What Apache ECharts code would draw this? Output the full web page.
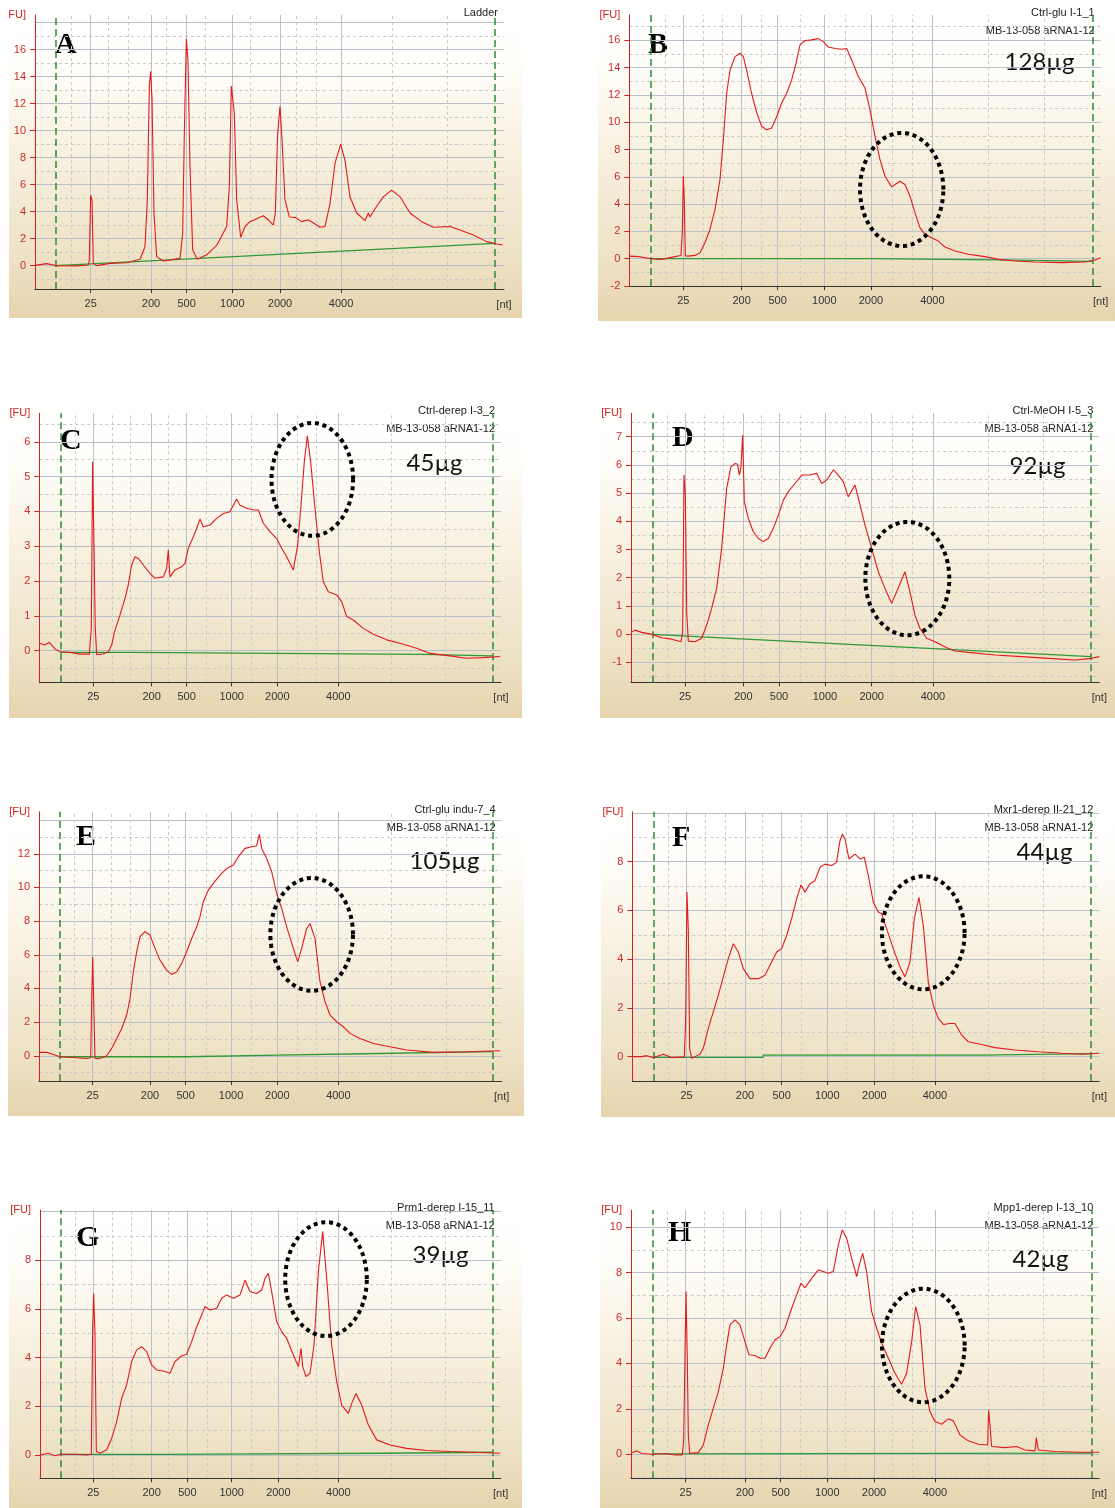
<!DOCTYPE html>
<html>
<head>
<meta charset="utf-8">
<script src="https://cdn.jsdelivr.net/npm/echarts@6/dist/echarts.min.js"></script>
<style>
  html, body { margin: 0; padding: 0; background: #ffffff; width: 1115px; height: 1508px; overflow: hidden; position: relative; }
  .panel {
    position: absolute;
    background: linear-gradient(to bottom, #ffffff 0%, #fffefb 18%, #f7f0de 50%, #eee2c6 80%, #e6d4ae 100%);
  }
</style>
</head>
<body>
<div id="pA" class="panel"></div>
<div id="pB" class="panel"></div>
<div id="pC" class="panel"></div>
<div id="pD" class="panel"></div>
<div id="pE" class="panel"></div>
<div id="pF" class="panel"></div>
<div id="pG" class="panel"></div>
<div id="pH" class="panel"></div>
<script>
// Electropherograms (RNA Nano): x = relative migration position (0-100 % of run window),
// y = fluorescence [FU]. Ladder sizes mark the x ticks.
const NT_LABELS = ['25', '200', '500', '1000', '2000', '4000'];

// x positions of the ladder sizes for each run
const NT_POS_A = [11.87, 24.73, 32.34, 42.08, 52.24, 65.25];
const NT_POS_B = [11.46, 23.83, 31.47, 41.37, 51.27, 64.29];
const NT_POS_C = [11.70, 24.33, 31.91, 41.66, 51.55, 64.77];
const NT_POS_D = [11.53, 23.99, 31.60, 41.42, 51.39, 64.48];
const NT_POS_E = [11.60, 23.99, 31.70, 41.50, 51.51, 64.70];
const NT_POS_F = [11.63, 24.13, 31.98, 41.76, 51.82, 64.81];
const NT_POS_G = [11.58, 24.24, 31.98, 41.61, 51.74, 64.76];
const NT_POS_H = [11.67, 24.34, 31.96, 41.92, 51.89, 64.91];

// intermediate (unlabelled) time grid positions
const MINOR_TIME_POS = [7.7, 15.7, 19.8, 27.9, 36.2, 45.8, 55.8, 60.0, 76.2, 88.0];

// lower / upper marker window (green dashed lines)
const MARKER_POS_A = [4.48, 98.08];
const MARKER_POS_B = [4.53, 98.23];
const MARKER_POS_C = [4.55, 98.12];
const MARKER_POS_D = [4.56, 98.22];
const MARKER_POS_E = [4.47, 98.06];
const MARKER_POS_F = [4.50, 98.14];
const MARKER_POS_G = [4.41, 98.19];
const MARKER_POS_H = [4.56, 98.36];

// labelled FU values per run
const FU_TICKS_A = [0, 2, 4, 6, 8, 10, 12, 14, 16];
const FU_TICKS_B = [-2, 0, 2, 4, 6, 8, 10, 12, 14, 16];
const FU_TICKS_C = [0, 1, 2, 3, 4, 5, 6];
const FU_TICKS_D = [-1, 0, 1, 2, 3, 4, 5, 6, 7];
const FU_TICKS_E = [0, 2, 4, 6, 8, 10, 12];
const FU_TICKS_F = [0, 2, 4, 6, 8];
const FU_TICKS_G = [0, 2, 4, 6, 8];
const FU_TICKS_H = [0, 2, 4, 6, 8, 10];

// fluorescence traces [position, FU]
const TRACE_A = [[0,0.02],[2.49,0.15],[4.48,0],[8.88,-0.02],[11.37,0.05],[11.58,0.42],[11.87,5.23],[12.15,4.9],[12.44,0.17],[13.15,0.0],[15.99,0.17],[19.55,0.22],[22.39,0.47],[23.45,1.4],[23.95,4.9],[24.38,13.3],[24.66,14.4],[24.95,12.3],[25.37,3.9],[25.94,0.67],[27.36,0.35],[30.92,0.54],[31.49,2.4],[31.84,9.8],[32.27,16.8],[32.62,15.2],[33.05,7.3],[33.62,1.16],[34.61,0.47],[36.6,0.8],[38.73,1.5],[40.87,2.9],[41.44,5.9],[41.86,13.3],[42.15,13.4],[42.5,11.3],[43.0,4.9],[43.85,2.1],[44.78,2.9],[45.84,3.26],[48.68,3.7],[49.75,3.4],[50.82,3.0],[51.24,3.9],[51.74,9.8],[52.24,11.8],[52.67,9.3],[53.3,4.9],[54.23,3.6],[55.44,3.58],[56.86,3.26],[58.28,3.4],[60.77,2.84],[61.83,2.9],[62.9,4.6],[63.97,7.6],[65.17,9.0],[66.1,7.8],[67.16,5.1],[68.59,3.9],[70.36,3.33],[71.07,3.9],[71.43,3.6],[72.85,4.4],[74.27,5.1],[76.05,5.6],[77.83,5.1],[79.96,3.9],[82.44,3.26],[84.93,2.84],[88.49,2.9],[90.62,2.64],[93.46,2.27],[96.3,1.78],[98.44,1.6],[99.72,1.53]];
const TRACE_B = [[0,0.19],[1.91,0.15],[4.53,0],[6.86,-0.05],[9.69,0.15],[10.96,0.24],[11.24,1.9],[11.46,6.04],[11.67,4.3],[11.88,0.2],[12.52,0.19],[13.93,0.24],[15.0,0.44],[16.05,1.17],[17.11,2.14],[18.17,3.6],[19.24,5.8],[19.94,8.7],[20.65,12.1],[21.36,13.8],[22.42,14.8],[23.48,15.05],[24.19,14.8],[24.89,13.8],[25.95,12.1],[27.02,10.7],[28.08,9.7],[29.14,9.45],[30.2,9.57],[31.26,10.4],[32.32,11.4],[33.38,12.1],[34.44,13.1],[35.36,14.3],[36.21,15.66],[37.27,15.98],[38.68,16.03],[40.1,16.12],[41.16,15.9],[42.22,15.5],[43.63,15.4],[45.05,15.34],[46.11,15.4],[47.17,14.56],[48.59,13.35],[50.0,12.5],[51.06,10.9],[52.12,8.96],[53.18,7.26],[54.24,6.04],[55.66,5.26],[56.36,5.43],[57.43,5.67],[58.49,5.43],[59.55,4.58],[60.61,3.36],[61.67,2.26],[62.73,1.78],[64.14,1.53],[65.56,1.29],[66.97,0.85],[69.1,0.56],[71.92,0.32],[75.46,0.15],[78.29,-0.05],[81.82,-0.17],[86.07,-0.24],[91.73,-0.29],[96.68,-0.24],[98.8,-0.1],[100,0.07]];
const TRACE_C = [[0,0.21],[1.23,0.16],[2.17,0.24],[3.39,0.05],[4.55,-0.03],[6.64,-0.05],[8.81,-0.1],[10.83,-0.1],[11.26,0.64],[11.55,5.43],[11.84,3.03],[12.13,0.64],[12.42,-0.12],[13.86,-0.09],[14.95,-0.03],[15.67,0.16],[16.39,0.59],[17.47,1.02],[18.56,1.5],[19.28,1.89],[20.0,2.46],[20.72,2.7],[21.44,2.65],[22.53,2.46],[23.97,2.22],[25.05,2.08],[26.86,2.12],[27.58,2.36],[27.94,2.89],[28.3,2.12],[29.39,2.32],[30.83,2.41],[31.55,2.51],[32.27,2.94],[33.36,3.27],[34.08,3.51],[34.8,3.78],[35.52,3.56],[36.97,3.61],[38.41,3.8],[39.86,3.94],[41.3,3.99],[42.02,4.18],[42.74,4.35],[43.47,4.18],[44.91,4.09],[46.35,4.04],[47.44,4.04],[48.52,3.66],[49.96,3.42],[51.41,3.22],[52.49,2.94],[53.57,2.7],[55.02,2.32],[55.96,3.03],[56.68,4.18],[57.4,5.43],[58.05,6.17],[58.77,5.43],[59.71,4.09],[60.65,2.84],[61.52,1.98],[62.6,1.69],[64.4,1.6],[65.49,1.41],[66.57,0.98],[68.01,0.88],[70.18,0.64],[72.35,0.47],[75.23,0.31],[78.12,0.21],[81.73,0.07],[84.62,-0.08],[88.95,-0.15],[92.56,-0.22],[96.17,-0.2],[99.78,-0.17]];
const TRACE_D = [[0,0.06],[0.85,0.14],[2.28,0.06],[4.56,-0.01],[6.55,-0.13],[8.68,-0.18],[10.68,-0.27],[11.03,0.08],[11.32,5.64],[11.6,4.93],[11.89,0.8],[12.24,-0.25],[13.67,-0.27],[15.09,-0.15],[16.16,0.32],[17.22,0.91],[18.29,1.62],[19.36,3.04],[20.43,5.17],[21.35,5.94],[22.21,6.05],[22.78,6.02],[23.13,5.64],[23.49,5.94],[23.84,7.06],[24.2,4.69],[25.05,4.1],[26.12,3.63],[27.19,3.39],[28.26,3.28],[29.32,3.39],[30.39,3.75],[31.46,4.22],[32.53,4.75],[33.6,5.05],[35.02,5.34],[36.44,5.64],[38.22,5.64],[39.64,5.7],[40.71,5.34],[41.78,5.46],[43.2,5.82],[44.27,5.64],[45.34,5.4],[46.41,4.87],[47.83,5.29],[48.9,4.58],[49.96,3.87],[51.39,3.04],[52.81,2.21],[54.23,1.62],[55.66,1.09],[56.73,1.5],[58.51,2.21],[59.57,1.5],[60.64,0.67],[61.71,0.2],[63.13,-0.15],[64.91,-0.27],[67.76,-0.51],[69.18,-0.6],[72.03,-0.65],[77.72,-0.74],[83.42,-0.8],[89.11,-0.86],[94.8,-0.92],[98.36,-0.86],[100,-0.8]];
const TRACE_E = [[0,0.2],[1.66,0.2],[3.1,0.08],[4.47,-0.06],[7.42,-0.1],[10.3,-0.16],[11.17,-0.12],[11.38,3.2],[11.6,5.88],[11.82,3.2],[12.1,-0.16],[13.18,-0.16],[14.63,0],[15.71,0.44],[16.79,1.03],[17.87,1.62],[18.95,2.42],[19.67,3.4],[20.39,4.99],[21.11,6.18],[21.83,7.07],[22.91,7.37],[23.99,7.17],[25.07,6.38],[26.15,5.68],[27.59,5.09],[28.67,4.83],[29.76,4.99],[30.84,5.49],[31.92,6.18],[33.0,6.97],[34.08,7.66],[34.8,8.26],[35.52,9.15],[36.6,9.84],[37.68,10.24],[39.12,10.73],[40.56,11.13],[42.0,11.33],[43.08,11.82],[44.52,12.32],[45.97,12.42],[47.05,12.48],[47.62,13.15],[48.13,12.32],[49.21,11.72],[50.29,10.93],[51.37,9.64],[52.45,8.75],[53.53,7.66],[54.97,6.38],[55.91,5.58],[56.77,6.38],[57.85,7.56],[58.57,7.86],[59.65,6.97],[60.73,4.4],[61.82,3.21],[62.9,2.42],[64.34,2.02],[65.78,1.72],[67.22,1.33],[69.38,1.03],[72.26,0.73],[75.86,0.53],[79.47,0.34],[85.23,0.2],[92.44,0.24],[99.64,0.3]];
const TRACE_F = [[0,0],[2.0,0],[3.07,0.04],[4.5,-0.04],[6.64,0.1],[8.42,-0.04],[11.13,-0.01],[11.42,1.43],[11.71,6.75],[11.99,5.25],[12.28,0.34],[12.71,-0.07],[13.42,0],[14.49,0.1],[15.2,0.34],[16.27,1.16],[17.34,1.84],[18.42,2.52],[19.49,3.27],[20.56,4.02],[21.63,4.63],[22.7,4.29],[23.77,3.61],[25.2,3.2],[26.98,3.2],[28.41,3.34],[29.48,3.75],[30.91,4.29],[31.98,4.43],[33.05,4.97],[34.12,5.66],[35.19,6.47],[36.12,7.05],[36.97,6.75],[38.04,7.09],[39.11,7.22],[40.19,7.77],[41.26,7.9],[42.68,7.84],[43.75,7.97],[44.47,8.86],[44.97,9.13],[45.54,8.93],[46.4,8.11],[47.68,8.31],[48.75,8.11],[49.68,8.18],[50.54,7.43],[51.61,6.34],[52.68,5.93],[53.39,5.86],[54.46,5.25],[55.89,4.43],[57.32,3.68],[58.39,3.27],[59.46,3.88],[60.39,5.66],[61.38,6.54],[62.31,5.38],[63.38,3.07],[64.45,2.11],[65.52,1.57],[66.6,1.32],[68.02,1.36],[69.09,1.36],[70.52,0.89],[71.95,0.61],[74.8,0.5],[77.66,0.37],[81.94,0.27],[86.94,0.2],[91.93,0.14],[96.22,0.1],[100,0.14]];
const TRACE_G = [[0,0],[1.81,0.07],[3.26,-0.03],[4.41,0.03],[7.24,0.03],[10.13,0],[11.14,0.03],[11.43,5.2],[11.65,6.64],[11.94,4.93],[12.23,0.14],[13.02,0.07],[14.47,0.21],[15.56,0.68],[16.64,1.37],[17.73,2.33],[18.81,2.88],[19.9,3.84],[20.98,4.32],[22.07,4.45],[23.15,4.25],[24.24,3.7],[25.33,3.49],[26.77,3.45],[28.22,3.36],[29.31,3.84],[30.75,4.07],[31.84,4.14],[32.92,4.66],[34.01,5.27],[35.09,5.75],[35.82,6.1],[36.9,5.96],[38.35,6.03],[39.44,6.44],[40.52,6.58],[41.97,6.44],[43.42,6.58],[44.5,7.19],[45.59,6.71],[47.03,6.64],[48.12,6.78],[48.84,7.26],[49.57,7.47],[50.29,6.71],[51.37,5.48],[52.46,5.07],[53.55,4.79],[54.99,4.11],[56.08,3.63],[56.66,4.38],[57.02,3.63],[57.74,3.22],[58.61,3.36],[59.48,4.52],[60.42,7.53],[61.36,9.18],[62.23,7.26],[63.31,4.52],[64.4,3.01],[65.49,2.05],[66.93,1.71],[67.66,2.12],[68.6,2.53],[69.83,2.05],[71.27,1.23],[73.08,0.62],[75.98,0.41],[79.59,0.27],[83.94,0.18],[89.0,0.14],[94.07,0.11],[99.86,0.07]];
const TRACE_H = [[0,0.04],[1.21,0.15],[2.28,0.03],[4.56,0],[7.26,0.03],[9.4,-0.03],[10.96,-0.03],[11.25,0.63],[11.53,0.7],[11.74,7.17],[12.03,4.08],[12.24,0.85],[12.53,0.04],[14.38,0.07],[15.44,0.41],[16.51,1.29],[17.58,2.03],[18.65,2.76],[19.72,3.79],[20.43,4.82],[21.14,5.7],[22.21,5.92],[23.27,5.7],[24.34,4.96],[25.2,4.38],[26.48,4.35],[27.54,4.23],[28.61,4.23],[29.68,4.67],[30.75,5.04],[31.81,5.18],[32.88,5.55],[34.31,6.43],[35.37,7.02],[36.3,7.53],[37.15,7.34],[38.58,7.75],[40.0,8.12],[41.07,8.05],[42.14,7.97],[43.2,8.05],[44.27,9.22],[45.12,9.88],[46.05,9.52],[47.12,8.63],[48.19,7.83],[48.75,8.34],[49.47,8.85],[50.32,8.05],[51.39,6.28],[52.46,5.55],[53.52,4.89],[54.95,4.23],[56.37,3.57],[57.79,3.08],[58.86,3.57],[59.93,4.96],[60.78,6.5],[61.71,5.7],[62.78,2.91],[63.84,1.88],[64.91,1.44],[66.33,1.32],[67.76,1.56],[68.83,1.47],[70.25,0.85],[72.03,0.59],[74.16,0.44],[76.16,0.41],[76.37,1.95],[76.65,1.29],[77.01,0.34],[79.86,0.29],[82.35,0.34],[84.13,0.19],[86.26,0.15],[86.55,0.73],[86.98,0.19],[90.53,0.12],[95.52,0.09],[100,0.09]];

// fitted baselines [position, FU]
const BASE_A = [[4.48,0],[98.08,1.65]];
const BASE_B = [[4.53,0],[51.27,0],[51.27,-0.08],[78.3,-0.08],[98.23,-0.2]];
const BASE_C = [[4.55,-0.05],[20,-0.05],[20,-0.08],[51.4,-0.08],[51.4,-0.11],[82.8,-0.11],[82.8,-0.15],[98.12,-0.15]];
const BASE_D = [[4.56,-0.01],[98.22,-0.8]];
const BASE_E = [[4.47,-0.06],[31.9,-0.06],[31.9,0.04],[51.4,0.04],[51.4,0.12],[70,0.12],[70,0.2],[98.06,0.25]];
const BASE_F = [[4.5,-0.03],[28.05,-0.03],[28.05,0.06],[74.8,0.06],[74.8,0.12],[98.14,0.12]];
const BASE_G = [[4.41,0.02],[27.86,0.02],[27.86,0.07],[74.5,0.07],[74.5,0.11],[98.19,0.11]];
const BASE_H = [[4.56,0.02],[98.36,0.05]];

// highlighted region: [centre position, centre FU, half-width, half-height]
const RING_B = [57.78, 5.07, 8.84, 4.14];
const RING_C = [59.13, 4.92, 8.84, 1.62];
const RING_D = [59.0, 1.97, 8.97, 2.01];
const RING_E = [58.93, 7.21, 8.93, 3.35];
const RING_F = [62.31, 5.08, 8.85, 2.32];
const RING_G = [62.08, 7.23, 8.86, 2.34];
const RING_H = [62.42, 4.79, 8.83, 2.5];

const SAMPLE_NAMES = ['Ladder', 'Ctrl-glu I-1_1', 'Ctrl-derep I-3_2', 'Ctrl-MeOH I-5_3', 'Ctrl-glu indu-7_4', 'Mxr1-derep II-21_12', 'Prm1-derep I-15_11', 'Mpp1-derep I-13_10'];
const CHIP_ID = 'MB-13-058 aRNA1-12';
const YIELDS = [null, '128µg', '45µg', '92µg', '105µg', '44µg', '39µg', '42µg'];
const LETTERS = ['A', 'B', 'C', 'D', 'E', 'F', 'G', 'H'];

// panel layout: box [left, top, width, height], grid [left, right, top, bottom]
const PANELS = [
  { id: 'pA', box: [9, 0, 513, 318],     grid: [26, 18, 15, 29],       y: [-1.73, 18.57], step: 2, fu: FU_TICKS_A, nt: NT_POS_A, mk: MARKER_POS_A, trace: TRACE_A, base: BASE_A, ring: null,   letterAt: [46, 45], yieldAt: null },
  { id: 'pB', box: [598, 0, 517, 321],   grid: [31.3, 14.3, 15, 35],   y: [-2, 17.85],    step: 2, fu: FU_TICKS_B, nt: NT_POS_B, mk: MARKER_POS_B, trace: TRACE_B, base: BASE_B, ring: RING_B, letterAt: [50, 45], yieldAt: [441.5, 62.5] },
  { id: 'pC', box: [9, 398, 513, 320],   grid: [30.3, 21, 15.3, 35.7], y: [-0.91, 6.82],  step: 1, fu: FU_TICKS_C, nt: NT_POS_C, mk: MARKER_POS_C, trace: TRACE_C, base: BASE_C, ring: RING_C, letterAt: [51, 43], yieldAt: [425.5, 65] },
  { id: 'pD', box: [600, 398, 515, 320], grid: [31, 15.7, 15.3, 35.7], y: [-1.71, 7.83],  step: 1, fu: FU_TICKS_D, nt: NT_POS_D, mk: MARKER_POS_D, trace: TRACE_D, base: BASE_D, ring: RING_D, letterAt: [72, 40], yieldAt: [437.5, 68] },
  { id: 'pE', box: [8, 796, 516, 320],   grid: [31, 22.3, 15.7, 35],   y: [-1.5, 14.5],   step: 2, fu: FU_TICKS_E, nt: NT_POS_E, mk: MARKER_POS_E, trace: TRACE_E, base: BASE_E, ring: RING_E, letterAt: [68, 41], yieldAt: [436.5, 65] },
  { id: 'pF', box: [601, 796, 514, 321], grid: [31.3, 15.7, 15.7, 36], y: [-1, 10.05],    step: 2, fu: FU_TICKS_F, nt: NT_POS_F, mk: MARKER_POS_F, trace: TRACE_F, base: BASE_F, ring: RING_F, letterAt: [71, 42], yieldAt: [443.5, 56] },
  { id: 'pG', box: [9, 1195, 513, 313],  grid: [31, 21.3, 15, 29.7],   y: [-0.96, 10.07], step: 2, fu: FU_TICKS_G, nt: NT_POS_G, mk: MARKER_POS_G, trace: TRACE_G, base: BASE_G, ring: RING_G, letterAt: [67, 43], yieldAt: [431.5, 60] },
  { id: 'pH', box: [600, 1195, 515, 313], grid: [31, 15.7, 15, 29.7],  y: [-1.06, 10.76], step: 2, fu: FU_TICKS_H, nt: NT_POS_H, mk: MARKER_POS_H, trace: TRACE_H, base: BASE_H, ring: RING_H, letterAt: [68, 38], yieldAt: [440.5, 64] }
];

const RED = '#e3191c';
const AXIS_RED = '#d42222';
const GRID_SOLID = { color: '#b9c0cc', width: 1, type: 'solid' };
const GRID_DASH = { color: '#cacaca', width: 1, type: [3, 3] };
const MARKER_LINE = { color: '#2e8b35', width: 1.5, type: [7, 4] };
const SMALL_FONT = '11px "Liberation Sans", Arial, sans-serif';

// horizontal FU grid (solid at labelled steps, dashed halfway), vertical time grid and marker window
function gridLines(p) {
  const out = [];
  const half = p.step / 2;
  const k0 = Math.ceil(p.y[0] / half - 1e-9);
  const k1 = Math.floor(p.y[1] / half + 1e-9);
  for (let k = k0; k <= k1; k++) {
    const v = k * half;
    if (v <= p.y[0] + 1e-6) continue; // the x axis itself sits there
    out.push({ yAxis: v, lineStyle: Math.abs(k) % 2 === 0 ? GRID_SOLID : GRID_DASH });
  }
  MINOR_TIME_POS.forEach(v => out.push({ xAxis: v, lineStyle: GRID_DASH }));
  p.nt.forEach(v => out.push({ xAxis: v, lineStyle: GRID_SOLID }));
  p.mk.forEach(v => out.push({ xAxis: v, lineStyle: MARKER_LINE }));
  return out;
}

// dotted ring around the region of interest, given in data units
function ringItem(params, api) {
  const cx = api.value(0), cy = api.value(1), rx = api.value(2), ry = api.value(3);
  const pts = [];
  const n = 90;
  for (let i = 0; i <= n; i++) {
    const t = (i / n) * Math.PI * 2;
    pts.push(api.coord([cx + rx * Math.cos(t), cy + ry * Math.sin(t)]));
  }
  return {
    type: 'polyline',
    shape: { points: pts },
    style: { stroke: '#000000', lineWidth: 4, lineDash: [4, 3.8], fill: null }
  };
}

PANELS.forEach((p, idx) => {
  const el = document.getElementById(p.id);
  const [bl, bt, bw, bh] = p.box;
  el.style.left = bl + 'px';
  el.style.top = bt + 'px';
  el.style.width = bw + 'px';
  el.style.height = bh + 'px';
  const chart = echarts.init(el, null, { renderer: 'canvas', width: bw, height: bh });
  const [gl, gr, gt, gb] = p.grid;

  const graphics = [
    { type: 'text', x: gl - 9, y: gt, silent: true,
      style: { text: '[FU]', font: SMALL_FONT, fill: AXIS_RED, textAlign: 'right', textVerticalAlign: 'middle', align: 'right', verticalAlign: 'middle' } },
    { type: 'text', x: bw - gr, y: bh - gb + 16, silent: true,
      style: { text: '[nt]', font: SMALL_FONT, fill: '#333333', textAlign: 'center', textVerticalAlign: 'middle', align: 'center', verticalAlign: 'middle' } },
    { type: 'text', x: p.letterAt[0], y: p.letterAt[1], silent: true,
      style: { text: LETTERS[idx], font: 'bold 30px "Liberation Serif", "Times New Roman", serif', fill: '#000000', textAlign: 'left', textVerticalAlign: 'middle', align: 'left', verticalAlign: 'middle' } },
    { type: 'text', x: bw - gr - 6, y: gt - 2, silent: true,
      style: { text: SAMPLE_NAMES[idx], font: SMALL_FONT, fill: '#222222', textAlign: 'right', textVerticalAlign: 'middle', align: 'right', verticalAlign: 'middle' } }
  ];
  if (idx > 0) {
    graphics.push({ type: 'text', x: bw - gr - 6, y: gt + 16, silent: true,
      style: { text: CHIP_ID, font: SMALL_FONT, fill: '#222222', textAlign: 'right', textVerticalAlign: 'middle', align: 'right', verticalAlign: 'middle' } });
  }
  if (YIELDS[idx]) {
    graphics.push({ type: 'text', x: p.yieldAt[0], y: p.yieldAt[1], silent: true,
      style: { text: YIELDS[idx], font: '24px Lato, "Open Sans", sans-serif', fill: '#111111', textAlign: 'center', textVerticalAlign: 'middle', align: 'center', verticalAlign: 'middle' } });
  }

  const series = [
    {
      type: 'line', name: 'baseline', data: p.base, showSymbol: false, z: 2,
      lineStyle: { color: '#2f9a35', width: 1.3 }, animation: false, silent: true,
      markLine: {
        silent: true, symbol: ['none', 'none'], label: { show: false }, animation: false, z: 1,
        emphasis: { disabled: true }, data: gridLines(p)
      }
    },
    {
      type: 'line', name: 'trace', data: p.trace, showSymbol: false, z: 3,
      lineStyle: { color: RED, width: 1.1 }, animation: false, silent: true
    }
  ];
  if (p.ring) {
    series.push({ type: 'custom', name: 'region', data: [p.ring], renderItem: ringItem, z: 4, clip: false, silent: true, animation: false });
  }

  chart.setOption({
    backgroundColor: 'transparent',
    animation: false,
    grid: { left: gl, right: gr, top: gt, bottom: gb, containLabel: false, outerBoundsMode: 'none' },
    xAxis: {
      type: 'value', min: 0, max: 100, z: 5,
      axisLine: { show: true, onZero: false, lineStyle: { color: '#333333', width: 1 } },
      axisTick: { show: true, customValues: p.nt, length: 4, lineStyle: { color: '#333333' } },
      axisLabel: {
        customValues: p.nt, color: '#333333', fontSize: 11, fontFamily: '"Liberation Sans", Arial, sans-serif', margin: 9,
        formatter: v => { const i = p.nt.findIndex(t => Math.abs(t - v) < 1e-6); return i >= 0 ? NT_LABELS[i] : ''; }
      },
      splitLine: { show: false }
    },
    yAxis: {
      type: 'value', min: p.y[0], max: p.y[1], z: 5,
      axisLine: { show: true, onZero: false, lineStyle: { color: AXIS_RED, width: 1 } },
      axisTick: { show: true, customValues: p.fu, length: 5, lineStyle: { color: AXIS_RED } },
      axisLabel: { customValues: p.fu, color: '#cc2b2b', fontSize: 11, fontFamily: '"Liberation Sans", Arial, sans-serif', margin: 9 },
      splitLine: { show: false }
    },
    graphic: graphics,
    series: series
  });
});
</script>
</body>
</html>
